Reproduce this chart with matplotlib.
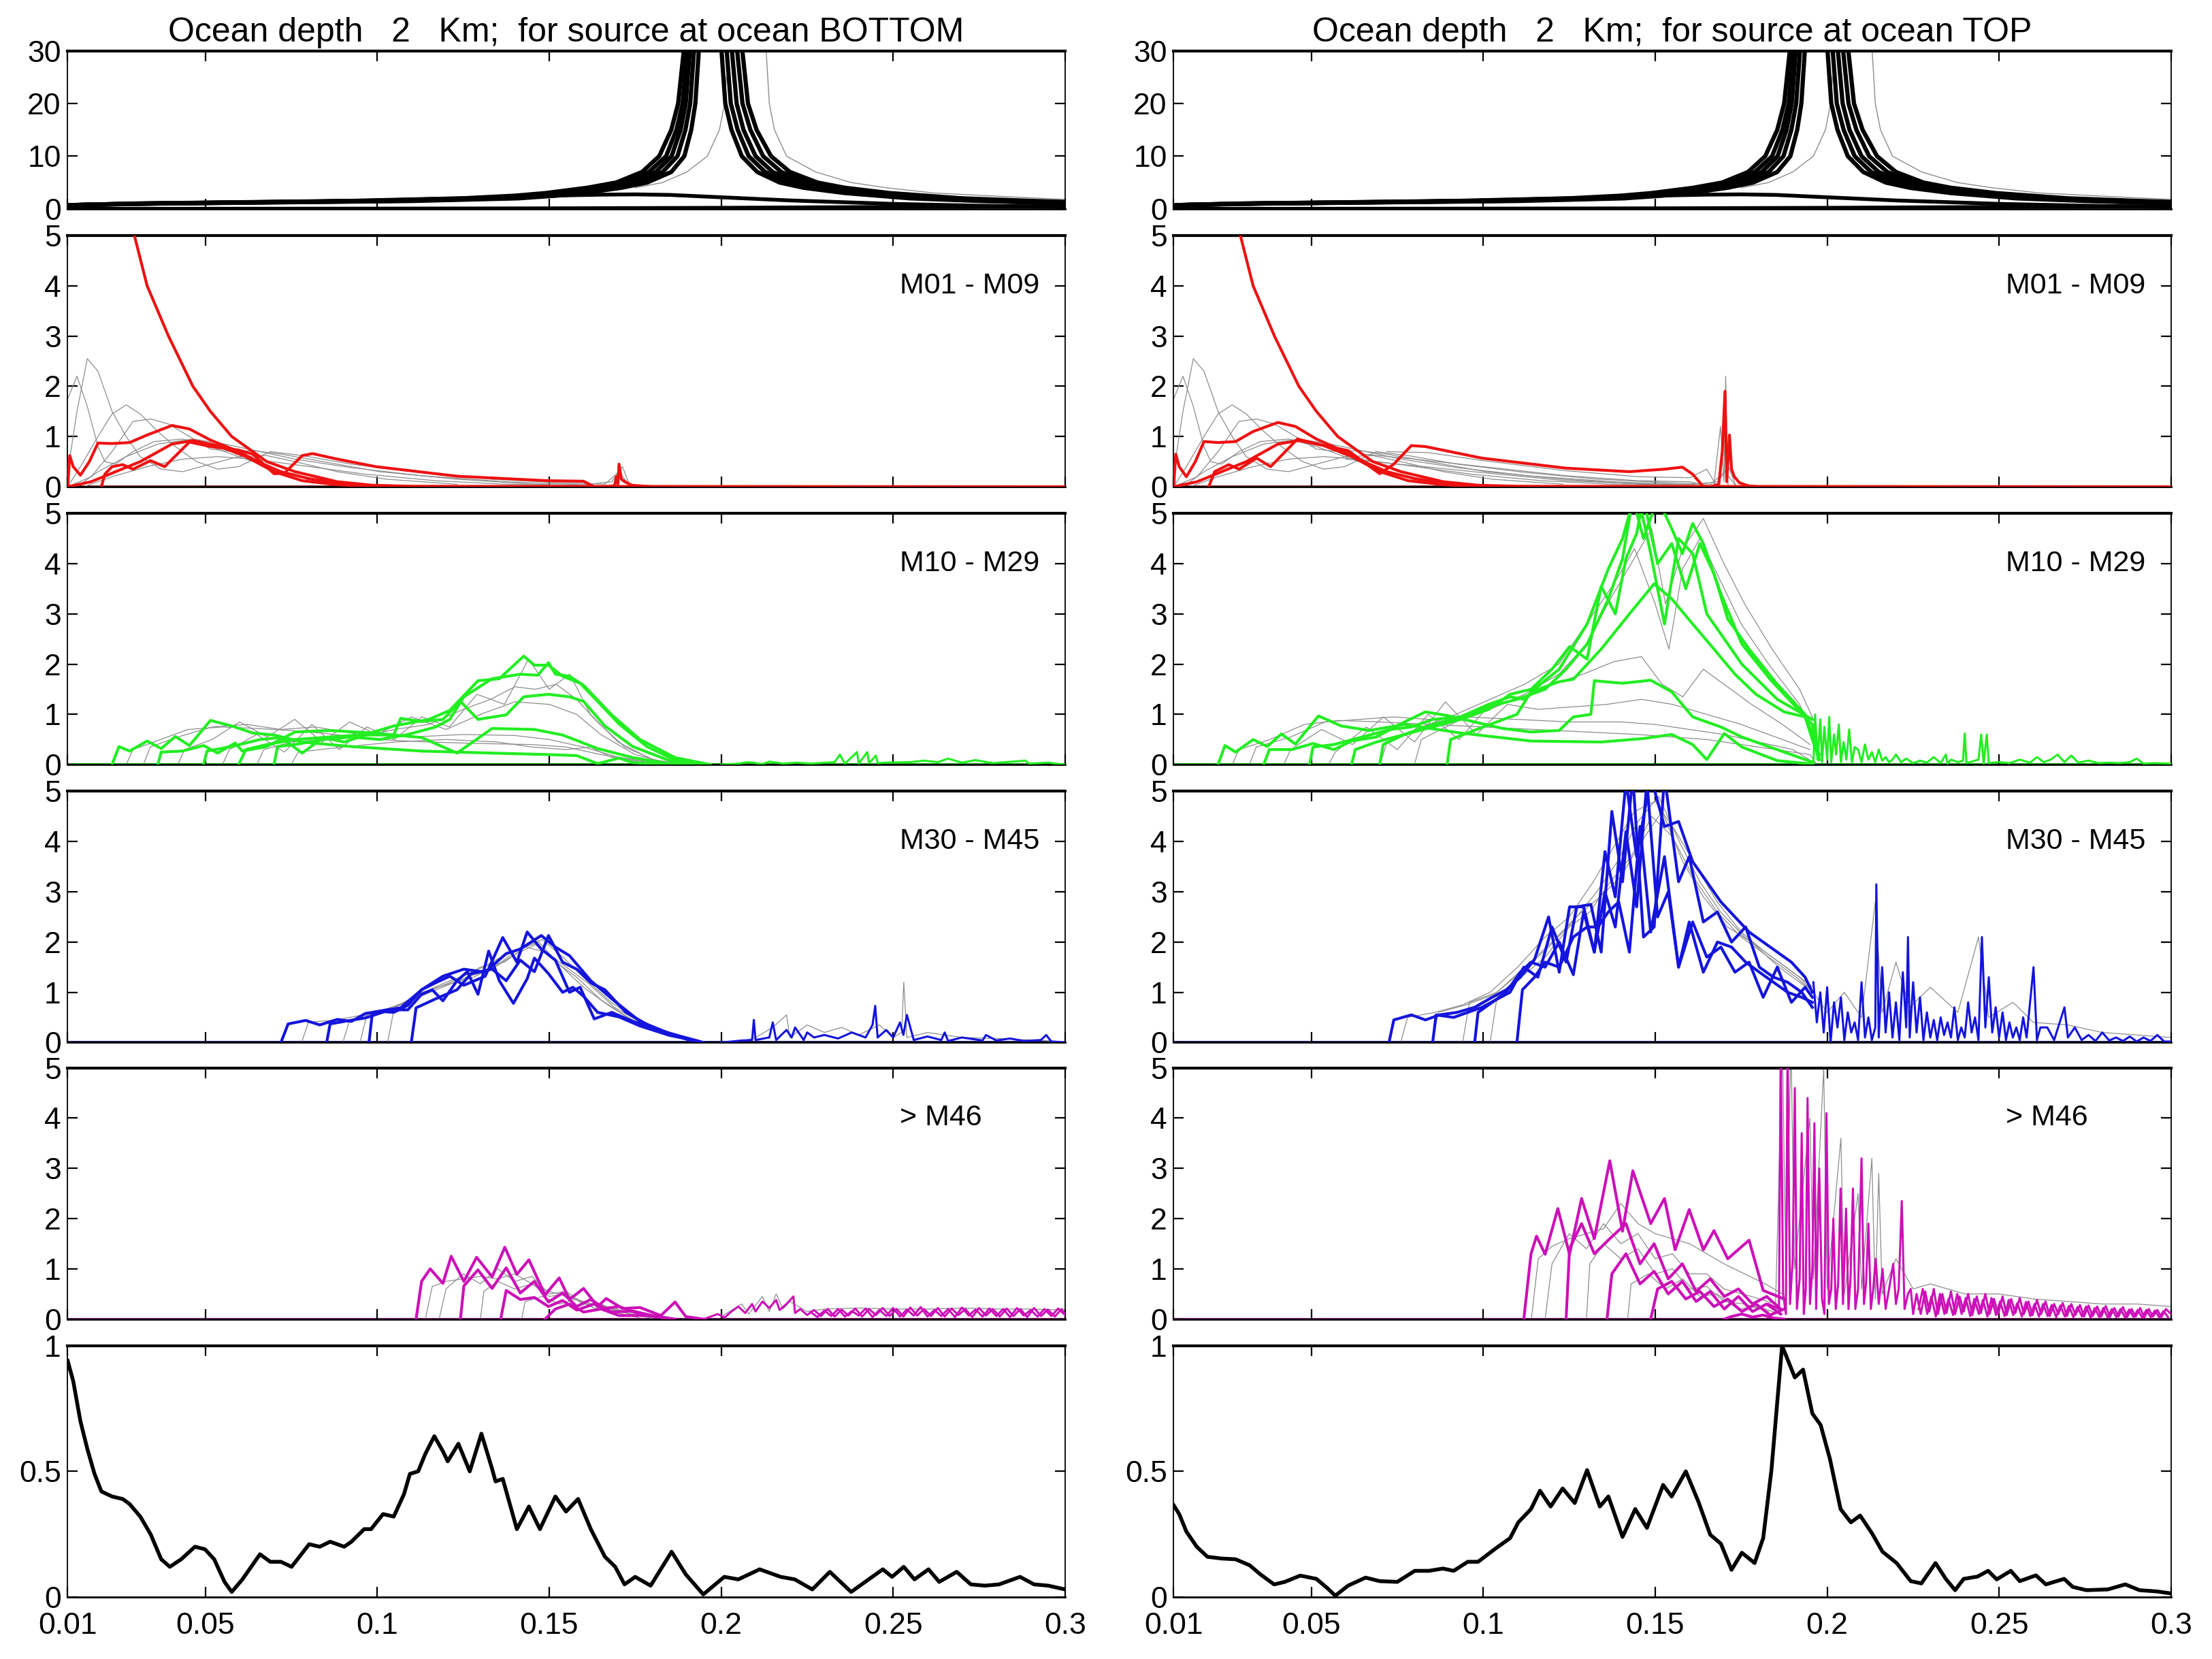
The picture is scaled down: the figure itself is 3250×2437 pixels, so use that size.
import matplotlib
matplotlib.use('Agg')
import matplotlib.pyplot as plt

plt.rcParams['font.family'] = ['Liberation Sans Narrow', 'Liberation Sans', 'DejaVu Sans']

# ---------------- axis setup ----------------
XTICKS = [0.01, 0.05, 0.1, 0.15, 0.2, 0.25, 0.3]
XLABELS = ['0.01', '0.05', '0.1', '0.15', '0.2', '0.25', '0.3']
TITLES = ['Ocean depth   2   Km;  for source at ocean BOTTOM',
          'Ocean depth   2   Km;  for source at ocean TOP']
MODE_LABELS = ['M01 - M09', 'M10 - M29', 'M30 - M45', '> M46']

# ---------------- top panel (same in both columns) ----------------
TOP_Y_UP = [0.7, 1.0, 1.5, 2.0, 2.5, 3.0, 4.0, 5.0, 7.0, 10.0, 15.0, 20.0, 31.0]
TOP_X_UP = [
    [0.010, 0.028, 0.092, 0.125, 0.140, 0.149, 0.161, 0.1695, 0.177, 0.1820, 0.1855, 0.1875, 0.1893],
    [0.010, 0.030, 0.097, 0.130, 0.144, 0.152, 0.164, 0.172, 0.179, 0.1840, 0.1870, 0.1888, 0.1903],
    [0.010, 0.031, 0.100, 0.133, 0.146, 0.154, 0.166, 0.174, 0.181, 0.1856, 0.1882, 0.1897, 0.1910],
    [0.010, 0.033, 0.104, 0.137, 0.149, 0.157, 0.168, 0.176, 0.183, 0.1873, 0.1896, 0.1910, 0.1922],
    [0.010, 0.036, 0.110, 0.141, 0.152, 0.160, 0.171, 0.1785, 0.1855, 0.1893, 0.1913, 0.1925, 0.1936],
]
TOP_Y_DN = [31.0, 20.0, 15.0, 10.0, 7.0, 5.0, 4.0, 3.0, 2.0, 1.5, 1.1]
TOP_X_DN = [
    [0.2000, 0.2012, 0.2030, 0.2060, 0.2105, 0.2170, 0.2240, 0.2360, 0.2550, 0.2750, 0.2960],
    [0.2015, 0.2028, 0.2048, 0.2080, 0.2128, 0.2197, 0.2268, 0.2390, 0.2585, 0.2790, 0.2985],
    [0.2030, 0.2045, 0.2065, 0.2100, 0.2150, 0.2223, 0.2296, 0.2420, 0.2620, 0.2828, 0.3000],
    [0.2045, 0.2062, 0.2085, 0.2122, 0.2175, 0.2252, 0.2328, 0.2455, 0.2660, 0.2870, 0.3050],
    [0.2060, 0.2078, 0.2103, 0.2145, 0.2200, 0.2280, 0.2360, 0.2490, 0.2700, 0.2910, 0.3100],
]
TOP_GRAY = [
    [(0.2130, 31.0), (0.2140, 20.0), (0.2155, 15.0), (0.2190, 10.0), (0.2275, 7.0), (0.2378, 5.0),
     (0.2480, 4.0), (0.2620, 3.0), (0.2930, 2.0), (0.3000, 1.8)],
    [(0.1750, 4.0), (0.1830, 5.0), (0.1900, 7.0), (0.1960, 10.0), (0.1995, 15.0), (0.2010, 20.0), (0.2015, 25.0)],
]
TOP_HUMP = [(0.010, 0.75), (0.050, 1.1), (0.100, 1.6), (0.130, 2.1), (0.150, 2.5), (0.165, 2.7), (0.175, 2.75),
            (0.185, 2.65), (0.200, 2.2), (0.220, 1.6), (0.250, 0.95), (0.275, 0.6), (0.300, 0.35)]
TOP_FLAT = [(0.010, 0.0), (0.100, 0.05), (0.150, 0.1), (0.200, 0.2), (0.230, 0.3), (0.260, 0.4), (0.300, 0.5)]

# ---------------- M01 - M09 ----------------
RED_STEEP = [(0.0150, 14.0), (0.0200, 9.0), (0.0250, 6.3), (0.0294, 5.0), (0.0331, 4.0), (0.0393, 3.0),
             (0.0464, 2.0), (0.0515, 1.5), (0.0577, 1.0), (0.0679, 0.5), (0.0761, 0.3), (0.0884, 0.1),
             (0.0986, 0.03), (0.1100, 0.01), (0.3000, 0.0)]
RED_C = [(0.0100, 0.0), (0.0168, 0.10), (0.0311, 0.50), (0.0403, 0.85), (0.0464, 0.92), (0.0536, 0.82),
         (0.0618, 0.60), (0.0700, 0.30), (0.0782, 0.12), (0.0884, 0.04), (0.1007, 0.0)]
L_RED_A = [(0.0100, 0.0), (0.0106, 0.62), (0.0116, 0.40), (0.0137, 0.23), (0.0163, 0.50), (0.0188, 0.87),
           (0.0229, 0.86), (0.0280, 0.88), (0.0331, 1.03), (0.0403, 1.22), (0.0454, 1.15), (0.0515, 0.93),
           (0.0597, 0.70), (0.0659, 0.48), (0.0720, 0.30), (0.0802, 0.16), (0.0884, 0.08), (0.0986, 0.02),
           (0.1129, 0.0)]
L_RED_B = [(0.0198, 0.0), (0.0208, 0.25), (0.0229, 0.40), (0.0260, 0.44), (0.0290, 0.35), (0.0341, 0.52),
           (0.0382, 0.40), (0.0454, 0.89), (0.0515, 0.80), (0.0597, 0.73), (0.0638, 0.65), (0.0700, 0.26),
           (0.0730, 0.27), (0.0782, 0.62), (0.0812, 0.66), (0.0884, 0.55), (0.0996, 0.40), (0.1232, 0.21),
           (0.1496, 0.12), (0.1600, 0.11), (0.1631, 0.0)]
L_RED_SPIKE = [(0.1660, 0.0), (0.1690, 0.02), (0.1695, 0.20), (0.1700, 0.05), (0.1703, 0.45), (0.1710, 0.15),
               (0.1720, 0.10), (0.1740, 0.03), (0.1800, 0.0)]
R_RED_A = [(0.0100, 0.0), (0.0106, 0.65), (0.0116, 0.40), (0.0137, 0.20), (0.0163, 0.50), (0.0188, 0.90),
           (0.0229, 0.88), (0.0280, 0.90), (0.0331, 1.10), (0.0403, 1.28), (0.0454, 1.20), (0.0515, 0.95),
           (0.0597, 0.70), (0.0659, 0.48), (0.0720, 0.30), (0.0802, 0.16), (0.0884, 0.08), (0.0986, 0.02),
           (0.1129, 0.0)]
R_RED_B = [(0.0202, 0.0), (0.0219, 0.30), (0.0260, 0.44), (0.0290, 0.35), (0.0341, 0.57), (0.0382, 0.40),
           (0.0460, 0.95), (0.0525, 0.84), (0.0607, 0.72), (0.0699, 0.26), (0.0740, 0.45), (0.0791, 0.82),
           (0.0832, 0.80), (0.0996, 0.57), (0.1241, 0.37), (0.1425, 0.30), (0.1527, 0.35), (0.1579, 0.39),
           (0.1609, 0.25), (0.1640, 0.0)]
R_RED_SPIKE = [(0.1660, 0.0), (0.1685, 0.05), (0.1695, 0.70), (0.1703, 1.90), (0.1708, 0.10), (0.1716, 1.03),
               (0.1722, 0.35), (0.1730, 0.20), (0.1745, 0.08), (0.1770, 0.02), (0.1800, 0.0)]
GRAY_M01 = [
    [(0.0100, 1.75), (0.0127, 2.2), (0.0157, 1.6), (0.0188, 0.8), (0.0208, 0.5), (0.0239, 0.45), (0.0290, 0.7),
     (0.0352, 0.9), (0.0434, 0.95), (0.0515, 0.8), (0.0618, 0.55), (0.0720, 0.3), (0.0843, 0.12), (0.0966, 0.03)],
    [(0.0100, 0.3), (0.0127, 1.5), (0.0157, 2.55), (0.0188, 2.3), (0.0229, 1.5), (0.0270, 1.0), (0.0311, 0.6),
     (0.0372, 0.35), (0.0434, 0.3), (0.0515, 0.45), (0.0597, 0.6), (0.0679, 0.62), (0.0761, 0.5), (0.0884, 0.3),
     (0.1027, 0.15), (0.1232, 0.05)],
    [(0.0100, 0.0), (0.0137, 0.4), (0.0188, 1.0), (0.0229, 1.45), (0.0270, 1.63), (0.0311, 1.45), (0.0362, 1.1),
     (0.0413, 0.8), (0.0475, 0.5), (0.0536, 0.35), (0.0597, 0.4), (0.0689, 0.7), (0.0782, 0.62), (0.0925, 0.45),
     (0.1129, 0.28), (0.1334, 0.15), (0.1539, 0.08), (0.1662, 0.05), (0.1703, 0.3), (0.1733, 0.03)],
    [(0.0100, 0.0), (0.0168, 0.2), (0.0229, 0.7), (0.0290, 1.3), (0.0341, 1.35), (0.0393, 1.25), (0.0454, 1.0),
     (0.0515, 0.75), (0.0577, 0.7), (0.0638, 0.72), (0.0720, 0.65), (0.0843, 0.5), (0.1007, 0.3), (0.1232, 0.15),
     (0.1457, 0.05), (0.1641, 0.02)],
    [(0.0127, 0.0), (0.0188, 0.3), (0.0270, 0.6), (0.0362, 0.85), (0.0464, 0.95), (0.0556, 0.85), (0.0659, 0.7),
     (0.0761, 0.55), (0.0925, 0.38), (0.1129, 0.22), (0.1375, 0.1), (0.1600, 0.04), (0.1682, 0.1), (0.1713, 0.4),
     (0.1733, 0.05)],
    [(0.0147, 0.0), (0.0229, 0.2), (0.0331, 0.4), (0.0434, 0.55), (0.0536, 0.6), (0.0638, 0.55), (0.0782, 0.42),
     (0.0966, 0.25), (0.1170, 0.12), (0.1375, 0.05), (0.1580, 0.02)],
]
R_GRAY_M01 = [
    [(0.0720, 0.70), (0.0840, 0.68), (0.1000, 0.52), (0.1240, 0.32), (0.1450, 0.20), (0.1600, 0.18), (0.1650, 0.35), (0.1680, 0.0)],
    [(0.0650, 0.65), (0.0800, 0.55), (0.1000, 0.40), (0.1240, 0.22), (0.1450, 0.12), (0.1600, 0.10), (0.1660, 0.0)],
    [(0.0600, 0.55), (0.0800, 0.42), (0.1000, 0.28), (0.1240, 0.12), (0.1450, 0.06), (0.1600, 0.04)],
    [(0.1670, 0.0), (0.1690, 1.2), (0.1700, 0.1), (0.1705, 2.2), (0.1712, 0.0)],
]

# ---------------- M10 - M29 ----------------
L_GREEN = [
    [(0.0229, 0.0), (0.0249, 0.36), (0.0280, 0.27), (0.0331, 0.47), (0.0372, 0.32), (0.0413, 0.56), (0.0454, 0.38),
     (0.0515, 0.88), (0.0577, 0.77), (0.0638, 0.63), (0.0700, 0.59), (0.0782, 0.45), (0.0925, 0.36), (0.1129, 0.27),
     (0.1334, 0.23), (0.1498, 0.20), (0.1580, 0.18), (0.1641, 0.02), (0.1703, 0.13), (0.1743, 0.04), (0.1846, 0.0)],
    [(0.0362, 0.0), (0.0372, 0.25), (0.0434, 0.27), (0.0495, 0.38), (0.0536, 0.23), (0.0587, 0.43), (0.0608, 0.27),
     (0.0679, 0.36), (0.0761, 0.65), (0.0863, 0.68), (0.0986, 0.63), (0.1129, 0.54), (0.1232, 0.23), (0.1334, 0.72),
     (0.1457, 0.70), (0.1539, 0.59), (0.1641, 0.32), (0.1743, 0.14), (0.1846, 0.02), (0.1948, 0.0)],
    [(0.0495, 0.0), (0.0505, 0.27), (0.0577, 0.36), (0.0659, 0.50), (0.0720, 0.54), (0.0782, 0.23), (0.0843, 0.54),
     (0.0904, 0.45), (0.0966, 0.59), (0.1048, 0.59), (0.1068, 0.92), (0.1129, 0.86), (0.1191, 0.90), (0.1242, 1.26),
     (0.1293, 0.90), (0.1375, 0.99), (0.1426, 1.35), (0.1498, 1.40), (0.1559, 1.35), (0.1600, 1.26), (0.1662, 0.77),
     (0.1743, 0.36), (0.1846, 0.09), (0.1928, 0.0)],
    [(0.0597, 0.0), (0.0618, 0.30), (0.0679, 0.40), (0.0761, 0.50), (0.0863, 0.55), (0.0966, 0.60), (0.1048, 0.77),
     (0.1150, 0.90), (0.1211, 1.08), (0.1293, 1.67), (0.1355, 1.71), (0.1426, 2.16), (0.1457, 1.98), (0.1498, 1.98),
     (0.1539, 1.76), (0.1590, 1.62), (0.1641, 1.26), (0.1703, 0.81), (0.1784, 0.36), (0.1866, 0.09), (0.1948, 0.0)],
    [(0.0700, 0.0), (0.0710, 0.36), (0.0761, 0.40), (0.0843, 0.50), (0.0925, 0.55), (0.1007, 0.50), (0.1089, 0.60),
     (0.1170, 0.75), (0.1211, 0.90), (0.1252, 1.35), (0.1334, 1.71), (0.1416, 1.80), (0.1467, 1.78), (0.1498, 2.03),
     (0.1518, 1.80), (0.1559, 1.76), (0.1600, 1.58), (0.1682, 0.99), (0.1764, 0.50), (0.1866, 0.14), (0.1969, 0.0)],
]
L_GRAY_M10 = [
    [(0.0270, 0.0), (0.0290, 0.30), (0.0350, 0.45), (0.0450, 0.70), (0.0550, 0.75), (0.0650, 0.72), (0.0750, 0.68),
     (0.0850, 0.62), (0.1000, 0.50), (0.1150, 0.45), (0.1300, 0.42), (0.1450, 0.40), (0.1550, 0.35), (0.1650, 0.20),
     (0.1750, 0.08), (0.1850, 0.0)],
    [(0.0320, 0.0), (0.0340, 0.35), (0.0420, 0.55), (0.0520, 0.75), (0.0620, 0.80), (0.0720, 0.70), (0.0820, 0.75),
     (0.0950, 0.60), (0.1100, 0.55), (0.1250, 0.60), (0.1400, 0.58), (0.1500, 0.50), (0.1600, 0.35), (0.1700, 0.15),
     (0.1800, 0.05), (0.1900, 0.0)],
    [(0.0420, 0.0), (0.0440, 0.30), (0.0520, 0.50), (0.0600, 0.85), (0.0680, 0.55), (0.0760, 0.90), (0.0840, 0.45),
     (0.0920, 0.85), (0.1000, 0.60), (0.1100, 0.95), (0.1200, 0.70), (0.1300, 1.00), (0.1400, 1.25), (0.1500, 1.20),
     (0.1580, 1.00), (0.1650, 0.60), (0.1750, 0.20), (0.1850, 0.02)],
    [(0.0550, 0.0), (0.0570, 0.30), (0.0650, 0.60), (0.0730, 0.25), (0.0810, 0.80), (0.0890, 0.30), (0.0970, 0.75),
     (0.1050, 0.50), (0.1130, 0.95), (0.1210, 0.75), (0.1290, 1.40), (0.1370, 1.20), (0.1440, 2.10), (0.1500, 1.50),
     (0.1560, 1.80), (0.1620, 1.00), (0.1700, 0.45), (0.1800, 0.10), (0.1900, 0.0)],
    [(0.0650, 0.0), (0.0670, 0.30), (0.0750, 0.45), (0.0850, 0.50), (0.0950, 0.55), (0.1050, 0.70), (0.1150, 0.80),
     (0.1250, 1.10), (0.1330, 1.30), (0.1400, 1.55), (0.1460, 1.50), (0.1520, 1.60), (0.1580, 1.30), (0.1640, 0.85),
     (0.1720, 0.35), (0.1820, 0.05), (0.1920, 0.0)],
    [(0.0750, 0.0), (0.0770, 0.25), (0.0900, 0.35), (0.1050, 0.45), (0.1200, 0.50), (0.1350, 0.45), (0.1450, 0.35),
     (0.1550, 0.30), (0.1620, 0.35), (0.1680, 0.15), (0.1760, 0.05), (0.1860, 0.0)],
]
L_GREEN_NOISE = [(0.2000, 0.0), (0.2050, 0.02), (0.2080, 0.05), (0.2120, 0.01), (0.2140, 0.06), (0.2180, 0.02),
                 (0.2220, 0.04), (0.2260, 0.02), (0.2330, 0.05), (0.2345, 0.20), (0.2360, 0.02), (0.2395, 0.25),
                 (0.2400, 0.02), (0.2425, 0.25), (0.2430, 0.03), (0.2450, 0.18), (0.2455, 0.03), (0.2480, 0.04),
                 (0.2550, 0.05), (0.2590, 0.08), (0.2630, 0.05), (0.2660, 0.12), (0.2700, 0.04), (0.2740, 0.09),
                 (0.2790, 0.03), (0.2885, 0.08), (0.2895, 0.02), (0.2950, 0.04), (0.3000, 0.0)]
R_GREEN = [
    [(0.0229, 0.0), (0.0249, 0.38), (0.0280, 0.25), (0.0331, 0.50), (0.0372, 0.36), (0.0413, 0.61), (0.0454, 0.41),
     (0.0521, 0.97), (0.0587, 0.77), (0.0669, 0.68), (0.0771, 0.80), (0.0934, 0.63), (0.1139, 0.47), (0.1343, 0.45),
     (0.1466, 0.52), (0.1548, 0.60), (0.1609, 0.40), (0.1650, 0.10), (0.1701, 0.62), (0.1752, 0.35), (0.1855, 0.08),
     (0.1957, 0.01)],
    [(0.0362, 0.0), (0.0378, 0.30), (0.0444, 0.30), (0.0505, 0.42), (0.0566, 0.30), (0.0617, 0.47), (0.0689, 0.55),
     (0.0771, 0.85), (0.0832, 1.05), (0.0893, 0.98), (0.0975, 0.85), (0.1057, 0.72), (0.1139, 0.65), (0.1221, 0.68),
     (0.1262, 0.95), (0.1313, 1.00), (0.1323, 1.67), (0.1405, 1.62), (0.1487, 1.68), (0.1548, 1.45), (0.1609, 0.95),
     (0.1691, 0.75), (0.1752, 0.55), (0.1834, 0.35), (0.1916, 0.15), (0.1957, 0.05)],
    [(0.0495, 0.0), (0.0505, 0.35), (0.0566, 0.40), (0.0648, 0.55), (0.0730, 0.70), (0.0791, 0.75), (0.0853, 0.90),
     (0.0934, 0.95), (0.1016, 1.20), (0.1078, 1.35), (0.1118, 1.30), (0.1159, 1.50), (0.1221, 1.65), (0.1262, 1.70),
     (0.1343, 2.30), (0.1425, 3.00), (0.1497, 3.60), (0.1548, 3.30), (0.1609, 2.80), (0.1671, 2.30), (0.1732, 1.80),
     (0.1793, 1.40), (0.1875, 1.05), (0.1936, 0.95), (0.1957, 0.50), (0.1977, 0.10)],
    [(0.0617, 0.0), (0.0628, 0.30), (0.0689, 0.45), (0.0771, 0.60), (0.0853, 0.75), (0.0934, 0.90), (0.1016, 1.10),
     (0.1078, 1.40), (0.1139, 1.50), (0.1200, 1.90), (0.1251, 2.35), (0.1302, 2.10), (0.1343, 3.55), (0.1384, 3.00),
     (0.1415, 4.10), (0.1446, 4.60), (0.1466, 5.30), (0.1507, 4.00), (0.1548, 4.40), (0.1589, 3.50), (0.1630, 4.40),
     (0.1671, 3.80), (0.1711, 2.90), (0.1773, 2.30), (0.1855, 1.60), (0.1936, 1.00), (0.1957, 0.60), (0.1977, 0.20)],
    [(0.0699, 0.0), (0.0709, 0.40), (0.0771, 0.60), (0.0853, 0.80), (0.0934, 0.95), (0.1016, 1.15), (0.1098, 1.30),
     (0.1180, 1.50), (0.1241, 1.90), (0.1302, 2.40), (0.1364, 3.30), (0.1405, 4.10), (0.1435, 5.30), (0.1466, 4.50),
     (0.1507, 5.30), (0.1548, 4.70), (0.1579, 4.20), (0.1609, 4.80), (0.1640, 4.40), (0.1691, 3.40), (0.1752, 2.40),
     (0.1834, 1.70), (0.1916, 1.10), (0.1957, 0.80), (0.1977, 0.10)],
    [(0.0895, 0.0), (0.0905, 0.50), (0.1000, 0.75), (0.1098, 1.00), (0.1139, 1.45), (0.1221, 1.90), (0.1302, 2.80),
     (0.1364, 3.90), (0.1405, 4.50), (0.1446, 5.50), (0.1487, 4.20), (0.1527, 2.80), (0.1568, 4.50), (0.1609, 4.20),
     (0.1650, 3.00), (0.1691, 2.60), (0.1752, 2.00), (0.1855, 1.30), (0.1957, 0.90)],
]
R_GRAY_M10 = [
    [(0.0270, 0.0), (0.0290, 0.30), (0.0380, 0.50), (0.0480, 0.80), (0.0580, 0.88), (0.0700, 0.85), (0.0850, 0.80),
     (0.1000, 0.75), (0.1150, 0.70), (0.1300, 0.65), (0.1450, 0.60), (0.1550, 0.55), (0.1650, 0.50), (0.1750, 0.40),
     (0.1850, 0.30), (0.1950, 0.20), (0.1970, 0.0)],
    [(0.0320, 0.0), (0.0340, 0.35), (0.0440, 0.55), (0.0540, 0.85), (0.0640, 0.90), (0.0740, 0.95), (0.0840, 0.90),
     (0.0950, 0.95), (0.1100, 0.90), (0.1250, 0.85), (0.1400, 0.85), (0.1500, 0.80), (0.1600, 0.70), (0.1700, 0.60),
     (0.1800, 0.45), (0.1900, 0.30), (0.1960, 0.05)],
    [(0.0420, 0.0), (0.0440, 0.30), (0.0530, 0.70), (0.0620, 0.40), (0.0710, 0.95), (0.0800, 0.45), (0.0890, 1.25),
     (0.0980, 0.60), (0.1070, 1.20), (0.1160, 1.10), (0.1260, 1.15), (0.1360, 1.20), (0.1460, 1.30), (0.1550, 1.20),
     (0.1650, 1.00), (0.1750, 0.80), (0.1850, 0.55), (0.1950, 0.30)],
    [(0.0550, 0.0), (0.0570, 0.25), (0.0660, 0.75), (0.0750, 0.30), (0.0840, 1.00), (0.0930, 0.50), (0.1020, 1.20),
     (0.1110, 1.30), (0.1200, 1.60), (0.1290, 1.80), (0.1380, 2.05), (0.1460, 2.15), (0.1520, 1.60), (0.1580, 1.35),
     (0.1640, 1.90), (0.1700, 1.60), (0.1780, 1.20), (0.1870, 0.80), (0.1950, 0.40)],
    [(0.0700, 0.0), (0.0720, 0.45), (0.0820, 0.75), (0.0920, 1.00), (0.1020, 1.30), (0.1120, 1.60), (0.1220, 2.00),
     (0.1300, 2.80), (0.1380, 3.60), (0.1440, 4.30), (0.1500, 3.20), (0.1540, 2.30), (0.1580, 3.90), (0.1630, 4.50),
     (0.1680, 3.80), (0.1750, 2.80), (0.1830, 2.00), (0.1920, 1.20), (0.1960, 0.60)],
    [(0.0800, 0.0), (0.0820, 0.50), (0.0920, 0.85), (0.1020, 1.10), (0.1120, 1.40), (0.1220, 1.80), (0.1300, 2.40),
     (0.1370, 3.30), (0.1430, 4.00), (0.1490, 4.70), (0.1530, 3.20), (0.1580, 4.30), (0.1640, 4.90), (0.1700, 4.00),
     (0.1760, 3.20), (0.1840, 2.30), (0.1920, 1.50), (0.1960, 0.90)],
]
R_GREEN_NOISE = [(0.1960, 0.0), (0.1965, 1.0), (0.1972, 0.1), (0.1980, 0.9), (0.1985, 0.05), (0.1992, 0.75),
                 (0.2000, 0.1), (0.2006, 0.95), (0.2012, 0.05), (0.2020, 0.6), (0.2026, 0.2), (0.2034, 0.8),
                 (0.2040, 0.05), (0.2048, 0.45), (0.2056, 0.1), (0.2064, 0.7), (0.2072, 0.05), (0.2080, 0.35),
                 (0.2090, 0.3), (0.2100, 0.05), (0.2110, 0.4), (0.2120, 0.1), (0.2130, 0.25), (0.2140, 0.05),
                 (0.2150, 0.3), (0.2160, 0.08), (0.2170, 0.15), (0.2180, 0.05), (0.2190, 0.1), (0.2200, 0.2),
                 (0.2215, 0.05), (0.2230, 0.12), (0.2250, 0.03), (0.2270, 0.08), (0.2290, 0.04), (0.2310, 0.15),
                 (0.2330, 0.03), (0.2345, 0.2), (0.2350, 0.02), (0.2360, 0.1), (0.2380, 0.05), (0.2395, 0.08),
                 (0.2400, 0.62), (0.2405, 0.03), (0.2440, 0.1), (0.2448, 0.6), (0.2455, 0.02), (0.2464, 0.6),
                 (0.2470, 0.03), (0.2500, 0.05), (0.2530, 0.03), (0.2560, 0.1), (0.2590, 0.04), (0.2610, 0.15),
                 (0.2630, 0.05), (0.2650, 0.1), (0.2670, 0.2), (0.2690, 0.05), (0.2710, 0.18), (0.2730, 0.04),
                 (0.2760, 0.08), (0.2790, 0.03), (0.2820, 0.04), (0.2850, 0.03), (0.2880, 0.05), (0.2900, 0.12),
                 (0.2920, 0.02), (0.2950, 0.03), (0.3000, 0.02)]

# ---------------- M30 - M45 ----------------
L_BLUE = [
    [(0.0720, 0.0), (0.0741, 0.37), (0.0792, 0.44), (0.0833, 0.35), (0.0884, 0.46), (0.0925, 0.42), (0.0966, 0.58),
     (0.1007, 0.62), (0.1048, 0.60), (0.1089, 0.74), (0.1129, 1.05), (0.1191, 1.32), (0.1252, 1.46), (0.1314, 1.40),
     (0.1375, 1.77), (0.1416, 1.86), (0.1477, 2.13), (0.1518, 1.90), (0.1559, 1.73), (0.1621, 1.23), (0.1682, 0.87),
     (0.1764, 0.42), (0.1846, 0.19), (0.1928, 0.04), (0.1948, 0.0)],
    [(0.0853, 0.0), (0.0863, 0.37), (0.0904, 0.42), (0.0966, 0.49), (0.1037, 0.65), (0.1089, 0.65), (0.1129, 0.96),
     (0.1160, 1.05), (0.1191, 0.83), (0.1232, 1.23), (0.1262, 1.41), (0.1293, 0.96), (0.1324, 1.82), (0.1355, 1.23),
     (0.1396, 0.78), (0.1436, 1.27), (0.1457, 1.68), (0.1498, 1.37), (0.1539, 1.00), (0.1569, 1.10), (0.1600, 0.92),
     (0.1641, 0.60), (0.1703, 0.51), (0.1764, 0.33), (0.1846, 0.15), (0.1948, 0.0)],
    [(0.0976, 0.0), (0.0986, 0.60), (0.1027, 0.65), (0.1068, 0.69), (0.1129, 1.05), (0.1170, 1.19), (0.1211, 1.32),
     (0.1252, 1.14), (0.1314, 1.32), (0.1365, 2.09), (0.1406, 1.60), (0.1436, 2.20), (0.1477, 1.86), (0.1518, 1.64),
     (0.1559, 1.00), (0.1590, 1.10), (0.1631, 0.47), (0.1682, 0.60), (0.1743, 0.42), (0.1825, 0.24), (0.1928, 0.02)],
    [(0.1099, 0.0), (0.1113, 0.69), (0.1170, 0.87), (0.1232, 1.05), (0.1273, 1.37), (0.1334, 1.46), (0.1375, 1.23),
     (0.1416, 1.64), (0.1457, 1.41), (0.1498, 2.13), (0.1539, 1.60), (0.1580, 1.46), (0.1621, 1.19), (0.1662, 1.05),
     (0.1723, 0.60), (0.1805, 0.28), (0.1907, 0.05), (0.1948, 0.0)],
]
L_GRAY_M30 = [
    [(0.0780, 0.0), (0.0800, 0.40), (0.0880, 0.45), (0.0960, 0.55), (0.1040, 0.65), (0.1120, 0.95), (0.1200, 1.20),
     (0.1280, 1.40), (0.1360, 1.70), (0.1420, 1.90), (0.1480, 2.05), (0.1540, 1.70), (0.1600, 1.30), (0.1680, 0.80),
     (0.1760, 0.45), (0.1860, 0.15), (0.1950, 0.0)],
    [(0.0900, 0.0), (0.0920, 0.45), (0.1000, 0.60), (0.1080, 0.80), (0.1160, 1.05), (0.1230, 1.25), (0.1300, 1.50),
     (0.1370, 1.60), (0.1430, 1.90), (0.1490, 1.80), (0.1550, 1.50), (0.1610, 1.20), (0.1690, 0.70), (0.1780, 0.35),
     (0.1880, 0.10), (0.1960, 0.0)],
    [(0.1030, 0.0), (0.1050, 0.70), (0.1120, 0.90), (0.1190, 1.10), (0.1260, 1.30), (0.1330, 1.45), (0.1400, 1.75),
     (0.1460, 1.95), (0.1520, 1.60), (0.1580, 1.30), (0.1650, 0.85), (0.1730, 0.50), (0.1820, 0.20), (0.1920, 0.02)],
    [(0.0950, 0.0), (0.0970, 0.55), (0.1050, 0.70), (0.1130, 1.00), (0.1200, 1.15), (0.1280, 1.30), (0.1350, 1.55),
     (0.1410, 1.85), (0.1470, 2.00), (0.1530, 1.55), (0.1600, 1.10), (0.1670, 0.75), (0.1750, 0.40), (0.1850, 0.12),
     (0.1950, 0.0)],
    [(0.2050, 0.0), (0.2100, 0.1), (0.2150, 0.3), (0.2190, 0.55), (0.2200, 0.1), (0.2250, 0.35), (0.2300, 0.2),
     (0.2350, 0.3), (0.2400, 0.15), (0.2460, 0.35), (0.2500, 0.1), (0.2525, 0.2), (0.2531, 1.2), (0.2540, 0.1),
     (0.2600, 0.2), (0.2700, 0.1), (0.2800, 0.08), (0.2900, 0.05), (0.3000, 0.02)],
]
L_BLUE_NOISE = [(0.2000, 0.0), (0.2060, 0.04), (0.2090, 0.05), (0.2095, 0.45), (0.2100, 0.05), (0.2140, 0.10),
                (0.2150, 0.40), (0.2160, 0.05), (0.2190, 0.25), (0.2205, 0.10), (0.2215, 0.30), (0.2240, 0.05),
                (0.2250, 0.20), (0.2270, 0.10), (0.2300, 0.15), (0.2340, 0.08), (0.2380, 0.20), (0.2420, 0.10),
                (0.2440, 0.35), (0.2448, 0.73), (0.2455, 0.10), (0.2480, 0.25), (0.2500, 0.10), (0.2520, 0.40),
                (0.2530, 0.15), (0.2540, 0.55), (0.2560, 0.05), (0.2600, 0.12), (0.2640, 0.05), (0.2650, 0.20),
                (0.2660, 0.03), (0.2700, 0.10), (0.2760, 0.04), (0.2770, 0.15), (0.2800, 0.04), (0.2840, 0.08),
                (0.2880, 0.03), (0.2930, 0.05), (0.2945, 0.15), (0.2960, 0.02), (0.3000, 0.0)]
R_BLUE = [
    [(0.0726, 0.0), (0.0740, 0.45), (0.0791, 0.55), (0.0832, 0.45), (0.0873, 0.55), (0.0924, 0.60), (0.0975, 0.70),
     (0.1026, 0.90), (0.1067, 1.05), (0.1108, 1.30), (0.1149, 1.65), (0.1190, 2.50), (0.1221, 1.40), (0.1251, 2.70),
     (0.1292, 2.70), (0.1323, 1.80), (0.1354, 3.80), (0.1384, 2.90), (0.1415, 5.20), (0.1446, 3.70), (0.1487, 5.30),
     (0.1527, 4.30), (0.1568, 4.40), (0.1609, 3.60), (0.1650, 3.20), (0.1691, 2.80), (0.1732, 2.50), (0.1773, 2.20),
     (0.1814, 2.00), (0.1855, 1.80), (0.1896, 1.60), (0.1936, 1.30), (0.1957, 1.00)],
    [(0.0853, 0.0), (0.0863, 0.55), (0.0914, 0.50), (0.0955, 0.60), (0.0996, 0.70), (0.1037, 0.85), (0.1078, 1.00),
     (0.1118, 1.50), (0.1159, 1.30), (0.1200, 2.30), (0.1241, 1.60), (0.1272, 2.70), (0.1313, 2.75), (0.1343, 1.80),
     (0.1374, 4.60), (0.1405, 3.20), (0.1435, 5.30), (0.1466, 2.10), (0.1497, 2.30), (0.1527, 5.30), (0.1568, 3.20),
     (0.1599, 3.70), (0.1640, 2.40), (0.1681, 2.60), (0.1722, 2.00), (0.1763, 2.30), (0.1803, 1.50), (0.1844, 1.30),
     (0.1885, 1.20), (0.1926, 1.00), (0.1957, 0.70)],
    [(0.0975, 0.0), (0.0985, 0.60), (0.1026, 0.80), (0.1067, 1.00), (0.1108, 1.40), (0.1139, 1.60), (0.1180, 1.50),
     (0.1221, 2.00), (0.1262, 1.35), (0.1292, 2.60), (0.1323, 1.80), (0.1354, 3.00), (0.1384, 2.30), (0.1415, 4.20),
     (0.1446, 2.70), (0.1476, 5.20), (0.1507, 2.50), (0.1538, 3.00), (0.1568, 1.50), (0.1599, 2.40), (0.1640, 1.40),
     (0.1681, 2.00), (0.1722, 1.90), (0.1763, 1.60), (0.1803, 1.40), (0.1844, 1.20), (0.1885, 1.00), (0.1926, 0.90),
     (0.1957, 0.80)],
    [(0.1098, 0.0), (0.1114, 1.05), (0.1149, 1.30), (0.1180, 1.60), (0.1221, 1.50), (0.1262, 2.10), (0.1302, 2.30),
     (0.1333, 2.30), (0.1364, 2.60), (0.1394, 2.80), (0.1425, 1.80), (0.1456, 4.30), (0.1487, 2.20), (0.1527, 3.70),
     (0.1568, 1.50), (0.1609, 2.40), (0.1650, 1.70), (0.1691, 1.90), (0.1732, 1.40), (0.1773, 1.60), (0.1814, 0.90),
     (0.1855, 1.50), (0.1896, 0.80), (0.1936, 1.10), (0.1957, 0.90)],
]
R_GRAY_M30 = [
    [(0.0760, 0.0), (0.0780, 0.50), (0.0860, 0.60), (0.0940, 0.75), (0.1020, 1.00), (0.1100, 1.50), (0.1180, 2.10),
     (0.1250, 2.50), (0.1320, 3.20), (0.1380, 3.90), (0.1440, 4.60), (0.1500, 4.80), (0.1560, 4.20), (0.1620, 3.50),
     (0.1680, 2.80), (0.1750, 2.20), (0.1820, 1.80), (0.1900, 1.40), (0.1960, 1.10)],
    [(0.0850, 0.0), (0.0870, 0.60), (0.0950, 0.75), (0.1030, 0.95), (0.1110, 1.40), (0.1190, 1.90), (0.1260, 2.40),
     (0.1330, 3.00), (0.1390, 3.60), (0.1450, 4.40), (0.1510, 4.90), (0.1570, 4.00), (0.1630, 3.20), (0.1690, 2.60),
     (0.1760, 2.10), (0.1840, 1.70), (0.1920, 1.30), (0.1960, 1.00)],
    [(0.0940, 0.0), (0.0960, 0.80), (0.1040, 1.00), (0.1120, 1.50), (0.1200, 2.00), (0.1270, 2.50), (0.1340, 2.90),
     (0.1400, 3.30), (0.1460, 4.00), (0.1520, 4.60), (0.1580, 3.60), (0.1640, 2.90), (0.1710, 2.30), (0.1780, 2.00),
     (0.1860, 1.50), (0.1940, 1.10)],
    [(0.1020, 0.0), (0.1040, 0.90), (0.1110, 1.30), (0.1180, 1.70), (0.1250, 2.30), (0.1310, 2.60), (0.1370, 3.20),
     (0.1430, 3.70), (0.1490, 4.50), (0.1550, 4.10), (0.1610, 3.30), (0.1680, 2.60), (0.1750, 2.10), (0.1830, 1.70),
     (0.1910, 1.30), (0.1960, 1.00)],
    [(0.1960, 1.0), (0.2000, 0.6), (0.2050, 1.0), (0.2100, 0.5), (0.2140, 2.8), (0.2160, 0.6), (0.2200, 1.6),
     (0.2240, 0.7), (0.2300, 1.1), (0.2380, 0.6), (0.2440, 2.1), (0.2470, 0.5), (0.2540, 0.8), (0.2600, 0.4),
     (0.2700, 0.35), (0.2800, 0.2), (0.2900, 0.15), (0.3000, 0.1)],
]
R_BLUE_NOISE = [(0.1960, 1.2), (0.1970, 0.4), (0.1980, 1.0), (0.1990, 0.2), (0.2000, 1.1), (0.2010, 0.0),
                (0.2020, 0.8), (0.2030, 0.3), (0.2040, 0.9), (0.2050, 0.05), (0.2060, 0.6), (0.2070, 0.2),
                (0.2080, 0.4), (0.2090, 0.05), (0.2100, 1.2), (0.2110, 0.1), (0.2120, 0.5), (0.2130, 0.05),
                (0.2140, 0.3), (0.2143, 3.15), (0.2150, 0.1), (0.2160, 1.5), (0.2170, 0.2), (0.2180, 1.0),
                (0.2190, 0.1), (0.2200, 0.8), (0.2210, 0.05), (0.2220, 1.4), (0.2230, 0.3), (0.2235, 2.1),
                (0.2240, 0.1), (0.2250, 1.2), (0.2260, 0.2), (0.2270, 0.9), (0.2280, 0.05), (0.2290, 0.6),
                (0.2300, 0.1), (0.2310, 0.45), (0.2320, 0.05), (0.2330, 0.5), (0.2340, 0.15), (0.2350, 0.4),
                (0.2360, 0.1), (0.2370, 0.7), (0.2380, 0.05), (0.2390, 0.3), (0.2400, 0.1), (0.2410, 0.8),
                (0.2420, 0.2), (0.2430, 0.5), (0.2440, 0.05), (0.2450, 2.1), (0.2460, 0.3), (0.2470, 1.3),
                (0.2480, 0.2), (0.2490, 0.7), (0.2500, 0.1), (0.2510, 0.6), (0.2520, 0.05), (0.2530, 0.4),
                (0.2540, 0.1), (0.2550, 0.3), (0.2560, 0.05), (0.2570, 0.5), (0.2580, 0.1), (0.2600, 1.5),
                (0.2610, 0.05), (0.2620, 0.3), (0.2640, 0.3), (0.2660, 0.05), (0.2690, 0.7), (0.2700, 0.1),
                (0.2720, 0.3), (0.2740, 0.05), (0.2760, 0.15), (0.2780, 0.03), (0.2800, 0.2), (0.2820, 0.04),
                (0.2840, 0.1), (0.2860, 0.03), (0.2880, 0.12), (0.2900, 0.02), (0.2920, 0.1), (0.2940, 0.03),
                (0.2960, 0.15), (0.2980, 0.02), (0.3000, 0.02)]

# ---------------- > M46 ----------------
L_MAG = [
    [(0.1113, 0.0), (0.1129, 0.75), (0.1154, 1.00), (0.1191, 0.71), (0.1215, 1.25), (0.1252, 0.75), (0.1289, 1.23),
     (0.1334, 0.84), (0.1371, 1.43), (0.1406, 0.89), (0.1441, 1.18), (0.1488, 0.48), (0.1529, 0.82), (0.1559, 0.39),
     (0.1600, 0.61), (0.1641, 0.25), (0.1666, 0.41), (0.1713, 0.21), (0.1764, 0.23), (0.1825, 0.07), (0.1866, 0.34),
     (0.1897, 0.05), (0.1948, 0.0)],
    [(0.1242, 0.0), (0.1252, 0.66), (0.1293, 0.98), (0.1334, 0.61), (0.1375, 1.02), (0.1416, 0.52), (0.1457, 0.75),
     (0.1498, 0.34), (0.1539, 0.52), (0.1580, 0.25), (0.1621, 0.39), (0.1662, 0.21), (0.1703, 0.25), (0.1764, 0.10),
     (0.1846, 0.02)],
    [(0.1359, 0.0), (0.1375, 0.57), (0.1416, 0.39), (0.1457, 0.43), (0.1498, 0.25), (0.1539, 0.37), (0.1580, 0.18),
     (0.1631, 0.30), (0.1682, 0.14), (0.1743, 0.16), (0.1825, 0.03)],
    [(0.1488, 0.0), (0.1518, 0.20), (0.1559, 0.30), (0.1600, 0.14), (0.1651, 0.20), (0.1703, 0.07), (0.1784, 0.07),
     (0.1866, 0.0)],
]
L_GRAY_M46 = [
    [(0.1140, 0.0), (0.1160, 0.65), (0.1200, 0.75), (0.1250, 0.80), (0.1300, 0.85), (0.1350, 0.80), (0.1400, 0.90),
     (0.1450, 0.70), (0.1500, 0.55), (0.1550, 0.45), (0.1600, 0.35), (0.1650, 0.25), (0.1700, 0.18), (0.1760, 0.10),
     (0.1820, 0.02)],
    [(0.1180, 0.0), (0.1200, 0.60), (0.1250, 0.90), (0.1300, 0.70), (0.1350, 1.00), (0.1400, 0.75), (0.1450, 0.85),
     (0.1500, 0.50), (0.1550, 0.55), (0.1600, 0.30), (0.1650, 0.30), (0.1700, 0.15), (0.1780, 0.05)],
    [(0.1300, 0.0), (0.1310, 0.55), (0.1350, 0.75), (0.1400, 0.60), (0.1450, 0.70), (0.1500, 0.45), (0.1550, 0.50),
     (0.1600, 0.30), (0.1650, 0.30), (0.1700, 0.12), (0.1760, 0.03)],
    [(0.1420, 0.0), (0.1430, 0.35), (0.1480, 0.45), (0.1530, 0.30), (0.1580, 0.40), (0.1630, 0.22), (0.1680, 0.25),
     (0.1740, 0.08), (0.1800, 0.02)],
    [(0.2000, 0.05), (0.2060, 0.3), (0.2080, 0.1), (0.2120, 0.45), (0.2140, 0.15), (0.2160, 0.5), (0.2180, 0.2),
     (0.2200, 0.35), (0.2250, 0.15), (0.2300, 0.2), (0.2400, 0.22), (0.2500, 0.2), (0.2600, 0.2), (0.2700, 0.22),
     (0.2800, 0.2), (0.2900, 0.2), (0.3000, 0.18)],
]
L_MAG_NOISE = [
    [(0.1950, 0.0), (0.1990, 0.1), (0.2010, 0.03), (0.2030, 0.15), (0.2050, 0.25), (0.2070, 0.12), (0.2090, 0.3),
     (0.2100, 0.15), (0.2120, 0.35), (0.2140, 0.22), (0.2160, 0.38), (0.2170, 0.18), (0.2190, 0.3), (0.2210, 0.45),
     (0.2215, 0.12), (0.2230, 0.2), (0.2250, 0.08), (0.2270, 0.18), (0.2290, 0.06), (0.2310, 0.2), (0.2330, 0.05),
     (0.2350, 0.19), (0.2370, 0.07), (0.2390, 0.21), (0.2410, 0.05), (0.2430, 0.2), (0.2450, 0.08), (0.2470, 0.22),
     (0.2490, 0.06), (0.2510, 0.2), (0.2530, 0.05), (0.2550, 0.23), (0.2570, 0.07), (0.2590, 0.2), (0.2610, 0.06),
     (0.2630, 0.22), (0.2650, 0.05), (0.2670, 0.21), (0.2690, 0.08), (0.2710, 0.2), (0.2730, 0.04), (0.2750, 0.22),
     (0.2770, 0.07), (0.2790, 0.2), (0.2810, 0.05), (0.2830, 0.21), (0.2850, 0.06), (0.2870, 0.2), (0.2890, 0.04),
     (0.2910, 0.22), (0.2930, 0.06), (0.2950, 0.19), (0.2970, 0.05), (0.2990, 0.2), (0.3000, 0.1)],
    [(0.2260, 0.14), (0.2280, 0.04), (0.2300, 0.17), (0.2320, 0.06), (0.2340, 0.2), (0.2360, 0.05), (0.2380, 0.16),
     (0.2400, 0.07), (0.2420, 0.21), (0.2440, 0.04), (0.2460, 0.18), (0.2480, 0.06), (0.2500, 0.22), (0.2520, 0.05),
     (0.2540, 0.19), (0.2560, 0.07), (0.2580, 0.24), (0.2600, 0.05), (0.2620, 0.18), (0.2640, 0.06), (0.2660, 0.2),
     (0.2680, 0.04), (0.2700, 0.23), (0.2720, 0.07), (0.2740, 0.19), (0.2760, 0.05), (0.2780, 0.21), (0.2800, 0.06),
     (0.2820, 0.2), (0.2840, 0.04), (0.2860, 0.22), (0.2880, 0.07), (0.2900, 0.18), (0.2920, 0.05), (0.2940, 0.2),
     (0.2960, 0.06), (0.2980, 0.21), (0.3000, 0.08)],
]
R_MAG = [
    [(0.1118, 0.0), (0.1139, 1.30), (0.1155, 1.65), (0.1180, 1.29), (0.1217, 2.20), (0.1251, 1.29), (0.1286, 2.40),
     (0.1323, 1.60), (0.1368, 3.15), (0.1405, 1.75), (0.1435, 2.95), (0.1487, 1.90), (0.1527, 2.40), (0.1558, 1.38),
     (0.1599, 2.18), (0.1640, 1.38), (0.1671, 1.76), (0.1711, 1.20), (0.1773, 1.57), (0.1814, 0.57), (0.1875, 0.40)],
    [(0.1241, 0.0), (0.1251, 1.40), (0.1286, 1.90), (0.1323, 1.30), (0.1368, 1.60), (0.1415, 1.90), (0.1456, 1.10),
     (0.1497, 1.50), (0.1538, 0.80), (0.1579, 1.10), (0.1619, 0.55), (0.1660, 0.80), (0.1701, 0.45), (0.1742, 0.60),
     (0.1783, 0.30), (0.1824, 0.45), (0.1865, 0.20)],
    [(0.1360, 0.0), (0.1374, 0.90), (0.1415, 1.30), (0.1456, 0.70), (0.1497, 0.95), (0.1538, 0.50), (0.1579, 0.75),
     (0.1619, 0.35), (0.1660, 0.55), (0.1701, 0.20), (0.1742, 0.45), (0.1783, 0.15), (0.1824, 0.30), (0.1865, 0.10)],
    [(0.1487, 0.0), (0.1507, 0.60), (0.1548, 0.75), (0.1589, 0.40), (0.1630, 0.55), (0.1671, 0.25), (0.1711, 0.40),
     (0.1752, 0.15), (0.1793, 0.30), (0.1834, 0.08), (0.1875, 0.20)],
    [(0.1701, 0.0), (0.1721, 0.05), (0.1752, 0.10), (0.1783, 0.04), (0.1814, 0.08), (0.1844, 0.02), (0.1875, 0.0)],
]
R_GRAY_M46 = [
    [(0.1140, 0.0), (0.1160, 1.20), (0.1200, 1.45), (0.1250, 1.60), (0.1300, 1.70), (0.1350, 1.80), (0.1400, 2.30),
     (0.1450, 1.90), (0.1500, 1.70), (0.1550, 1.60), (0.1600, 1.50), (0.1650, 1.30), (0.1700, 1.10), (0.1760, 0.90),
     (0.1820, 0.70), (0.1870, 0.50)],
    [(0.1180, 0.0), (0.1200, 1.10), (0.1250, 1.70), (0.1300, 1.40), (0.1350, 1.90), (0.1400, 1.50), (0.1450, 1.70),
     (0.1500, 1.20), (0.1550, 1.30), (0.1600, 0.90), (0.1650, 0.90), (0.1700, 0.60), (0.1780, 0.45), (0.1850, 0.30)],
    [(0.1300, 0.0), (0.1310, 1.10), (0.1350, 1.50), (0.1400, 1.20), (0.1450, 1.40), (0.1500, 0.90), (0.1550, 1.00),
     (0.1600, 0.60), (0.1650, 0.65), (0.1700, 0.35), (0.1760, 0.30), (0.1830, 0.15)],
    [(0.1420, 0.0), (0.1430, 0.70), (0.1480, 0.90), (0.1530, 0.60), (0.1580, 0.80), (0.1630, 0.45), (0.1680, 0.50),
     (0.1740, 0.20), (0.1800, 0.25), (0.1860, 0.10)],
    [(0.1850, 0.3), (0.1870, 5.5), (0.1880, 0.8), (0.1895, 5.5), (0.1905, 1.0), (0.1950, 4.0), (0.1960, 0.8),
     (0.1990, 5.0), (0.2000, 0.6), (0.2040, 3.6), (0.2050, 0.5), (0.2090, 2.5), (0.2100, 0.6), (0.2130, 3.2),
     (0.2140, 0.4), (0.2150, 2.9), (0.2160, 0.5), (0.2200, 1.2), (0.2250, 0.6), (0.2300, 0.7), (0.2400, 0.5),
     (0.2500, 0.5), (0.2600, 0.4), (0.2700, 0.35), (0.2800, 0.3), (0.2900, 0.3), (0.3000, 0.25)],
]
R_MAG_NOISE = [
    [(0.1830, 0.3), (0.1860, 0.2), (0.1865, 5.5), (0.1872, 0.5), (0.1880, 0.1), (0.1885, 5.5), (0.1892, 0.3),
     (0.1900, 1.2), (0.1906, 4.6), (0.1912, 0.2), (0.1920, 0.8), (0.1926, 3.7), (0.1932, 0.1), (0.1938, 0.6),
     (0.1943, 4.4), (0.1950, 0.3), (0.1957, 1.0), (0.1963, 3.9), (0.1968, 0.2), (0.1977, 3.0), (0.1985, 0.4),
     (0.1992, 0.1), (0.1998, 4.1), (0.2005, 0.3), (0.2012, 0.6), (0.2018, 2.0), (0.2025, 0.2), (0.2032, 0.7),
     (0.2039, 2.6), (0.2046, 0.3), (0.2055, 2.2), (0.2062, 0.2), (0.2068, 0.8), (0.2075, 2.6), (0.2082, 0.2),
     (0.2090, 0.6), (0.2100, 3.2), (0.2107, 0.3), (0.2113, 0.7), (0.2120, 1.9), (0.2127, 0.2), (0.2134, 0.6),
     (0.2141, 1.2), (0.2150, 0.3), (0.2161, 1.0), (0.2170, 0.2), (0.2180, 0.6), (0.2192, 1.1), (0.2200, 0.3),
     (0.2208, 0.6), (0.2217, 2.35), (0.2225, 0.2), (0.2235, 0.5), (0.2243, 0.6), (0.2250, 0.1), (0.2260, 0.5),
     (0.2272, 0.1), (0.2285, 0.55), (0.2297, 0.15), (0.2310, 0.6), (0.2322, 0.1), (0.2335, 0.5), (0.2347, 0.12),
     (0.2360, 0.55), (0.2372, 0.1), (0.2385, 0.45), (0.2397, 0.15), (0.2410, 0.5), (0.2422, 0.08), (0.2435, 0.45),
     (0.2447, 0.12), (0.2460, 0.5), (0.2472, 0.1), (0.2485, 0.4), (0.2497, 0.1), (0.2510, 0.45), (0.2522, 0.08),
     (0.2535, 0.4), (0.2547, 0.12), (0.2560, 0.42), (0.2572, 0.1), (0.2585, 0.35), (0.2597, 0.08), (0.2610, 0.38),
     (0.2622, 0.1), (0.2635, 0.35), (0.2647, 0.06), (0.2660, 0.3), (0.2672, 0.1), (0.2685, 0.32), (0.2697, 0.06),
     (0.2710, 0.3), (0.2722, 0.08), (0.2735, 0.28), (0.2747, 0.05), (0.2760, 0.27), (0.2772, 0.06), (0.2785, 0.25),
     (0.2797, 0.05), (0.2810, 0.26), (0.2822, 0.04), (0.2835, 0.22), (0.2847, 0.05), (0.2860, 0.24), (0.2872, 0.04),
     (0.2885, 0.2), (0.2897, 0.05), (0.2910, 0.22), (0.2922, 0.03), (0.2935, 0.2), (0.2947, 0.05), (0.2960, 0.18),
     (0.2972, 0.04), (0.2985, 0.2), (0.3000, 0.1)],
    [(0.2266, 0.2), (0.2278, 0.6), (0.2291, 0.1), (0.2303, 0.45), (0.2316, 0.05), (0.2328, 0.5), (0.2341, 0.1),
     (0.2353, 0.4), (0.2366, 0.08), (0.2378, 0.5), (0.2391, 0.1), (0.2403, 0.42), (0.2416, 0.06), (0.2428, 0.4),
     (0.2441, 0.1), (0.2453, 0.38), (0.2466, 0.05), (0.2478, 0.42), (0.2491, 0.08), (0.2503, 0.35), (0.2516, 0.06),
     (0.2528, 0.38), (0.2541, 0.08), (0.2553, 0.32), (0.2566, 0.05), (0.2578, 0.34), (0.2591, 0.06), (0.2603, 0.3),
     (0.2616, 0.05), (0.2628, 0.3), (0.2641, 0.06), (0.2653, 0.28), (0.2666, 0.04), (0.2678, 0.27), (0.2691, 0.05),
     (0.2703, 0.26), (0.2716, 0.04), (0.2728, 0.24), (0.2741, 0.05), (0.2753, 0.25), (0.2766, 0.03), (0.2778, 0.22),
     (0.2791, 0.04), (0.2803, 0.22), (0.2816, 0.03), (0.2828, 0.2), (0.2841, 0.04), (0.2853, 0.2), (0.2866, 0.03),
     (0.2878, 0.19), (0.2891, 0.04), (0.2903, 0.18), (0.2916, 0.03), (0.2928, 0.18), (0.2941, 0.04), (0.2953, 0.17),
     (0.2966, 0.03), (0.2978, 0.16), (0.2991, 0.04)],
]

# ---------------- bottom panels (black) ----------------
L_TOTAL = [(0.0100, 0.94), (0.0116, 0.86), (0.0137, 0.70), (0.0157, 0.59), (0.0178, 0.49), (0.0198, 0.42),
           (0.0229, 0.40), (0.0260, 0.39), (0.0280, 0.37), (0.0311, 0.32), (0.0341, 0.25), (0.0372, 0.15),
           (0.0397, 0.12), (0.0430, 0.15), (0.0470, 0.20), (0.0499, 0.19), (0.0526, 0.15), (0.0556, 0.06),
           (0.0577, 0.02), (0.0608, 0.07), (0.0659, 0.17), (0.0689, 0.14), (0.0720, 0.14), (0.0751, 0.12),
           (0.0802, 0.21), (0.0833, 0.20), (0.0863, 0.22), (0.0904, 0.20), (0.0925, 0.22), (0.0962, 0.27),
           (0.0982, 0.27), (0.1017, 0.33), (0.1048, 0.32), (0.1078, 0.41), (0.1095, 0.49), (0.1119, 0.50),
           (0.1140, 0.57), (0.1166, 0.64), (0.1191, 0.58), (0.1205, 0.54), (0.1236, 0.61), (0.1269, 0.50),
           (0.1303, 0.65), (0.1334, 0.51), (0.1344, 0.46), (0.1365, 0.47), (0.1406, 0.27), (0.1441, 0.36),
           (0.1473, 0.27), (0.1518, 0.40), (0.1549, 0.34), (0.1584, 0.39), (0.1621, 0.27), (0.1662, 0.16),
           (0.1692, 0.12), (0.1719, 0.05), (0.1750, 0.08), (0.1795, 0.045), (0.1856, 0.18), (0.1897, 0.09),
           (0.1948, 0.01), (0.2009, 0.08), (0.2050, 0.07), (0.2112, 0.11), (0.2173, 0.08), (0.2214, 0.07),
           (0.2265, 0.03), (0.2316, 0.10), (0.2347, 0.06), (0.2378, 0.02), (0.2429, 0.07), (0.2470, 0.11),
           (0.2497, 0.08), (0.2531, 0.12), (0.2562, 0.07), (0.2603, 0.11), (0.2634, 0.06), (0.2685, 0.10),
           (0.2726, 0.05), (0.2767, 0.045), (0.2808, 0.05), (0.2869, 0.08), (0.2910, 0.05), (0.2951, 0.045),
           (0.3000, 0.03)]
R_TOTAL = [(0.0100, 0.365), (0.0116, 0.33), (0.0137, 0.26), (0.0167, 0.20), (0.0198, 0.16), (0.0239, 0.153),
           (0.0280, 0.15), (0.0321, 0.126), (0.0352, 0.09), (0.0392, 0.05), (0.0423, 0.06), (0.0468, 0.085),
           (0.0515, 0.072), (0.0546, 0.036), (0.0570, 0.005), (0.0607, 0.045), (0.0658, 0.077), (0.0699, 0.063),
           (0.0750, 0.06), (0.0801, 0.104), (0.0842, 0.104), (0.0883, 0.113), (0.0914, 0.104), (0.0955, 0.14),
           (0.0985, 0.14), (0.1037, 0.194), (0.1078, 0.234), (0.1102, 0.297), (0.1139, 0.35), (0.1165, 0.423),
           (0.1196, 0.36), (0.1231, 0.432), (0.1266, 0.374), (0.1302, 0.505), (0.1339, 0.36), (0.1364, 0.40),
           (0.1405, 0.239), (0.1442, 0.35), (0.1476, 0.275), (0.1523, 0.446), (0.1548, 0.40), (0.1589, 0.50),
           (0.1626, 0.378), (0.1660, 0.248), (0.1691, 0.212), (0.1722, 0.108), (0.1752, 0.176), (0.1789, 0.135),
           (0.1814, 0.234), (0.1838, 0.505), (0.1869, 1.0), (0.1906, 0.874), (0.1930, 0.905), (0.1957, 0.73),
           (0.1981, 0.685), (0.2008, 0.55), (0.2039, 0.35), (0.2069, 0.297), (0.2096, 0.324), (0.2131, 0.252),
           (0.2161, 0.18), (0.2202, 0.135), (0.2243, 0.063), (0.2274, 0.054), (0.2315, 0.135), (0.2345, 0.072),
           (0.2372, 0.027), (0.2397, 0.072), (0.2437, 0.081), (0.2468, 0.104), (0.2493, 0.07), (0.2534, 0.104),
           (0.2560, 0.063), (0.2607, 0.086), (0.2636, 0.05), (0.2689, 0.072), (0.2714, 0.04), (0.2754, 0.027),
           (0.2816, 0.03), (0.2867, 0.05), (0.2908, 0.027), (0.2959, 0.022), (0.3000, 0.014)]

# ---------------- colours ----------------
RED = '#ee1111'
GREEN = '#22ee22'
BLUE = '#1414dc'
MAGENTA = '#cc10b8'
GRAY = '#8c8c8c'
BASE_COL = ['#8b1010', '#11bb11', '#101070', '#8a1080']

FS = 32
FS_TITLE = 36
FS_LABEL = 31
COLS = [0.0306, 0.5306]
WIDTH = 0.4509
ROWS = [(0.8741, 0.0953), (0.7066, 0.1514), (0.5391, 0.1514), (0.3716, 0.1514), (0.2049, 0.1514),
        (0.0374, 0.1514)]


def draw(ax, curves, color, lw, z=2):
    for c in curves:
        xs = [p[0] for p in c]
        ys = [p[1] for p in c]
        ax.plot(xs, ys, color=color, lw=lw, zorder=z, solid_joinstyle='round')


def style(ax, ylim, yticks, ylabels, bottom_row):
    ax.set_xlim(0.01, 0.3)
    ax.set_ylim(*ylim)
    ax.set_xticks(XTICKS)
    if bottom_row:
        ax.set_xticklabels(XLABELS)
    else:
        ax.set_xticklabels([])
    ax.set_yticks(yticks)
    ax.set_yticklabels(ylabels)
    ax.tick_params(direction='in', top=True, right=True, length=11, width=1.6,
                   labelsize=FS)
    ax.tick_params(axis='y', pad=7)
    ax.tick_params(axis='x', pad=16)
    ax.spines['top'].set_linewidth(3.0)
    ax.spines['bottom'].set_linewidth(2.0)
    ax.spines['left'].set_linewidth(1.3)
    ax.spines['right'].set_linewidth(1.3)


fig = plt.figure(figsize=(32.5, 24.37), dpi=100)

for col in range(2):
    x0 = COLS[col]
    axs = [fig.add_axes([x0, b, WIDTH, h]) for b, h in ROWS]

    # top panel
    ax = axs[0]
    for xs in TOP_X_UP:
        ax.plot(xs, TOP_Y_UP, color='black', lw=4.5, zorder=3)
    for xs in TOP_X_DN:
        ax.plot(xs, TOP_Y_DN, color='black', lw=4.5, zorder=3)
    draw(ax, TOP_GRAY, GRAY, 1.0, z=2)
    draw(ax, [TOP_HUMP], 'black', 4.0, z=3)
    draw(ax, [TOP_FLAT], 'black', 4.0, z=3)
    style(ax, (0, 30), [0, 10, 20, 30], ['0', '10', '20', '30'], False)
    ax.set_title(TITLES[col], fontsize=FS_TITLE, pad=10)

    # mode panels
    if col == 0:
        panels = [
            (GRAY_M01, [RED_STEEP, RED_C, L_RED_A, L_RED_B, L_RED_SPIKE], [], RED),
            (L_GRAY_M10, L_GREEN, [L_GREEN_NOISE], GREEN),
            (L_GRAY_M30, L_BLUE, [L_BLUE_NOISE], BLUE),
            (L_GRAY_M46, L_MAG, L_MAG_NOISE, MAGENTA),
        ]
    else:
        panels = [
            (GRAY_M01 + R_GRAY_M01, [RED_STEEP, RED_C, R_RED_A, R_RED_B, R_RED_SPIKE], [], RED),
            (R_GRAY_M10, R_GREEN, [R_GREEN_NOISE], GREEN),
            (R_GRAY_M30, R_BLUE, [R_BLUE_NOISE], BLUE),
            (R_GRAY_M46, R_MAG, R_MAG_NOISE, MAGENTA),
        ]
    for i, (grays, thick, noise, colr) in enumerate(panels):
        ax = axs[i + 1]
        ax.axhline(0, color=BASE_COL[i], lw=3.5, zorder=1)
        draw(ax, grays, GRAY, 0.9, z=2)
        draw(ax, noise, colr, 2.2, z=3)
        draw(ax, thick, colr, 3.0, z=4)
        style(ax, (0, 5), [0, 1, 2, 3, 4, 5], ['0', '1', '2', '3', '4', '5'], False)
        ax.text(0.252, 4.0, MODE_LABELS[i], fontsize=FS_LABEL, ha='left', va='center', zorder=6)

    # bottom panel
    ax = axs[5]
    draw(ax, [L_TOTAL if col == 0 else R_TOTAL], 'black', 4.0, z=3)
    style(ax, (0, 1), [0, 0.5, 1], ['0', '0.5', '1'], True)

fig.savefig('out.png', dpi=100)
